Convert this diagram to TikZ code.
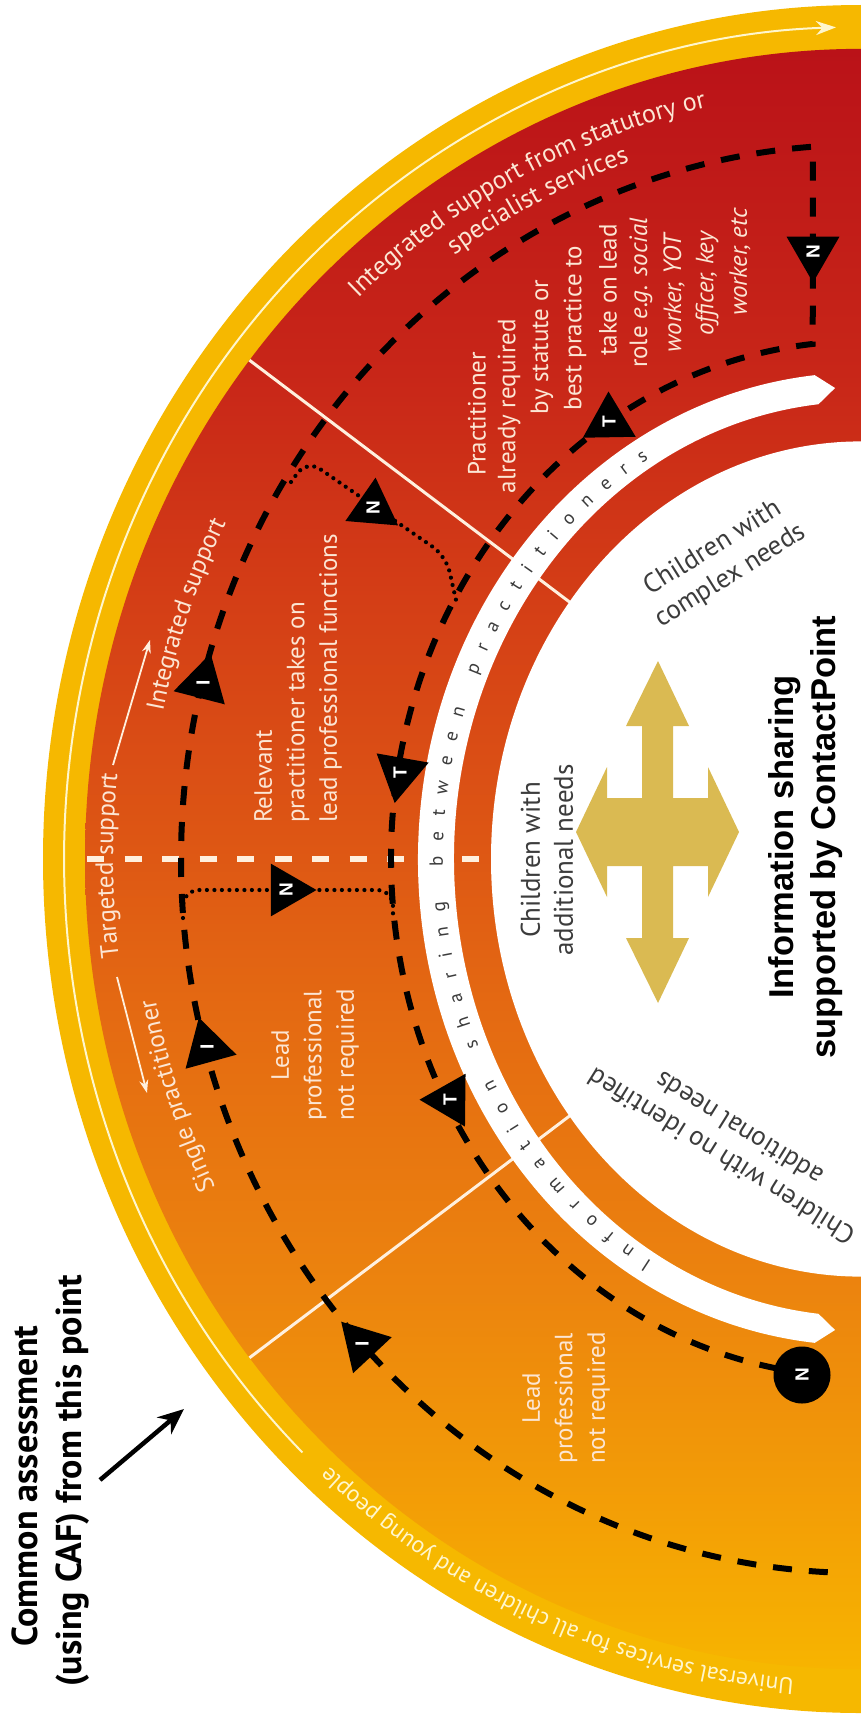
\documentclass[tikz,border=0pt]{standalone}
\usepackage{fontspec}
\setmainfont{PT Sans}
\newfontfamily\arialfont{Liberation Sans}
\usetikzlibrary{shapes.geometric,arrows.meta,decorations.text}
\definecolor{bandyellow}{RGB}{246,184,0}
\definecolor{txtcream}{RGB}{252,230,212}
\definecolor{linecream}{RGB}{255,240,222}
\definecolor{arrowcream}{RGB}{255,246,205}
\definecolor{gold}{RGB}{218,186,82}
\definecolor{darktxt}{RGB}{60,60,60}
\definecolor{gA}{RGB}{247,180,0}
\definecolor{gB}{RGB}{243,158,6}
\definecolor{gC}{RGB}{236,132,14}
\definecolor{gD}{RGB}{228,105,18}
\definecolor{gE}{RGB}{222,88,20}
\definecolor{gF}{RGB}{212,62,22}
\definecolor{gG}{RGB}{200,38,24}
\definecolor{gH}{RGB}{186,18,24}
\pgfdeclareverticalshading{diskgrad}{100bp}{color(0bp)=(gA); color(25bp)=(gA); color(30bp)=(gB); color(36.7bp)=(gC); color(45.5bp)=(gD); color(50bp)=(gE); color(58bp)=(gF); color(65bp)=(gG); color(75bp)=(gH); color(100bp)=(gH)}
\newcommand\bandfmt{\fontsize{19}{19}\selectfont\color{darktxt}}
\newcommand\arcfmt{\fontsize{26}{26}\selectfont\color{txtcream}}
\newcommand\sidefmt{\fontsize{25}{25}\selectfont\color{txtcream}}
\newcommand\univfmt{\fontsize{23.5}{23.5}\selectfont\color{arrowcream}}
\begin{document}
\begin{tikzpicture}[x=1pt,y=-1pt,
 tri/.style={regular polygon,regular polygon sides=3,fill=black,draw=none,inner sep=0pt,minimum size=61pt},
 lettr/.style={text=white,font=\arialfont\bfseries\fontsize{19}{19}\selectfont,rotate=90,inner sep=0pt},
 blkdash/.style={draw=black,line width=6pt,dash pattern=on 19pt off 17pt},
 blkdot/.style={draw=black,line width=4.2pt,line cap=round,dash pattern=on 0pt off 7.5pt,rounded corners=16pt},
 intext/.style={text=txtcream,font=\fontsize{25}{32.5}\selectfont,rotate=90,inner sep=0pt},
 childtxt/.style={text=darktxt,font=\fontsize{27}{33}\selectfont,align=center,inner sep=0pt},
 titletxt/.style={text=black,font=\arialfont\bfseries\fontsize{34.5}{42}\selectfont,align=center,inner sep=0pt,rotate=90},
 caftxt/.style={text=black,font=\bfseries\fontsize{36}{44}\selectfont,inner sep=0pt,rotate=90,anchor=base},
 creamline/.style={draw=linecream,line width=3pt},
]
\useasboundingbox (0,0) rectangle (861,1720);
\begin{scope}
\clip (0,0) rectangle (861,1720);
\begin{scope}[shift={(861,859)},yscale=1.044]
 \fill[bandyellow] (0,818) arc[start angle=90,end angle=270,radius=818] -- cycle;
 \draw[draw=arrowcream,line width=2pt,-{Stealth[length=20pt,width=14pt]}] (134.5:797) arc[start angle=134.5,end angle=268.2,radius=797];
 \shade[shading=diskgrad] (0,776) arc[start angle=90,end angle=270,radius=776] -- cycle;
 \draw[creamline] (218:776) -- (218:369 and 399);
 \draw[creamline] (142:776) -- (142:369 and 399);
 \draw[draw=linecream,line width=6pt,dash pattern=on 17pt off 20.5pt] (-774,0) -- (-372,0);
 \fill[white] (96:443 and 466) arc[start angle=96,end angle=264,x radius=443,y radius=466] -- (266.5:425 and 452) -- (264:407 and 438) arc[start angle=264,end angle=96,x radius=407,y radius=438] -- (93.5:425 and 452) -- cycle;
 \fill[white] (0,400) arc[start angle=90,end angle=270,x radius=370,y radius=400] -- cycle;
 % curved texts
 \path[decorate,decoration={text along path,text align=fit to path,text={|\bandfmt|Information sharing between practitioners}}] (120:418 and 445) arc[start angle=120,end angle=239.5,x radius=418,y radius=445];
 \path[decorate,decoration={text along path,text align=center,text={|\arcfmt|Integrated support from statutory or}}] (217.5:736) arc[start angle=217.5,end angle=267.5,radius=736];
 \path[decorate,decoration={text along path,text align=center,text={|\arcfmt|specialist services}}] (223:707) arc[start angle=223,end angle=263,radius=707];
 \path[decorate,decoration={text along path,text align=center,text={|\sidefmt|Integrated support}}] (184.2:712) arc[start angle=184.2,end angle=214.2,radius=712];
 \path[decorate,decoration={text along path,text align=center,text={|\sidefmt|Targeted support}}] (167.5:748) arc[start angle=167.5,end angle=191.5,radius=748];
 \path[decorate,decoration={text along path,text align=center,text={|\sidefmt|Single practitioner}}] (146.6:718) arc[start angle=146.6,end angle=176.6,radius=718];
 \path[decorate,decoration={text along path,text align=center,text={|\univfmt|Universal services for all children and young people}}] (83.5:788) arc[start angle=83.5,end angle=143.5,radius=788];
 % main loop path
 \draw[blkdash] (92.8:680 and 684) arc[start angle=92.8,end angle=265.95,x radius=680,y radius=684] -- (264.1:470 and 496) arc[start angle=264.1,end angle=97.2,x radius=470,y radius=496];
\end{scope}
\end{scope}
% small white arrows
\coordinate (ta1) at (113,765); \coordinate (ta2) at (150,640);
\coordinate (sa1) at (117,977); \coordinate (sa2) at (147,1093);
\draw[draw=linecream,line width=1.8pt,-{Stealth[length=13pt,width=9pt]}] (ta1) -- (ta2);
\draw[draw=linecream,line width=1.8pt,-{Stealth[length=13pt,width=9pt]}] (sa1) -- (sa2);
% dotted connectors
\draw[blkdot] (183,918) -- (183,890) -- (393,890) -- (393,918);
\draw[blkdot] (291,482) -- (307,460) -- (446,556) -- (456,600);
% triangles
\node[tri,rotate=43] (I1) at (362,1344) {};
\node[tri,rotate=15.4] (I2) at (207,1047) {};
\node[tri,rotate=-14.4] (I3) at (203,683) {};
\node[tri,rotate=121] (T1) at (609,422) {};
\node[tri,rotate=170] (T2) at (400,773) {};
\node[tri,rotate=209.4] (T3) at (450,1100) {};
\node[tri,rotate=180] (N1) at (813,252) {};
\node[tri,rotate=-90] (N2) at (286,890) {};
\node[tri,rotate=-124.8] (N3) at (373,508) {};
\node[circle,fill=black,inner sep=0pt,minimum size=57pt] (NC) at (802,1375) {};
\node[lettr] (lI1) at (I1) {I};
\node[lettr] (lI2) at (I2) {I};
\node[lettr] (lI3) at (I3) {I};
\node[lettr] (lT1) at (T1) {T};
\node[lettr] (lT2) at (T2) {T};
\node[lettr] (lT3) at (T3) {T};
\node[lettr] (lN1) at (N1) {N};
\node[lettr] (lN2) at (N2) {N};
\node[lettr] (lN3) at (N3) {N};
\node[lettr] (lNC) at (NC) {N};
% region texts
\node[intext] (p1) at (477,414) {Practitioner};
\node[intext] (p2) at (509,406) {already required};
\node[intext] (p3) at (542,347) {by statute or};
\node[intext] (p4) at (575,328) {best practice to};
\node[intext] (p5) at (608,290) {take on lead};
\node[intext] (p6) at (641,293) {role \textit{e.g. social}};
\node[intext] (p7) at (674,292) {\textit{worker, YOT}};
\node[intext] (p8) at (707,283) {\textit{officer, key}};
\node[intext] (p9) at (740,262) {\textit{worker, etc}};
\node[intext,align=left,anchor=west] (relevant) at (298,823) {Relevant\\practitioner takes on\\lead professional functions};
\node[intext,align=center] (leadA) at (315,1055) {Lead\\professional\\not required};
\node[intext,align=center] (leadB) at (566,1398) {Lead\\professional\\not required};
% inner texts
\node[childtxt,rotate=32] (complex) at (722,562) {Children with\\complex needs};
\node[childtxt,rotate=90] (additional) at (547,860) {Children with\\additional needs};
\node[childtxt,rotate=148] (noident) at (730,1143) {Children with no identified\\additional needs};
% golden four-way arrow
\fill[gold] (658,661) -- (689,726) -- (673,726) -- (673,798) -- (708,798) -- (708,767) -- (739,832) -- (708,897) -- (708,866) -- (673,866) -- (673,938) -- (689,938) -- (658,1003) -- (626,938) -- (642,938) -- (642,866) -- (607,866) -- (607,897) -- (576,832) -- (607,767) -- (607,798) -- (642,798) -- (642,726) -- (626,726) -- cycle;
\node[titletxt] (title) at (806,837) {Information sharing\\supported by ContactPoint};
% common assessment
\node[caftxt] (caf1) at (37,1486) {Common assessment};
\node[caftxt] (caf2) at (81,1481) {(using CAF) from this point};
\coordinate (cafA) at (100,1480); \coordinate (cafB) at (184,1409);
\draw[line width=4.5pt,-{Stealth[length=26pt,width=22pt]}] (cafA) -- (cafB);
\end{tikzpicture}
\end{document}
